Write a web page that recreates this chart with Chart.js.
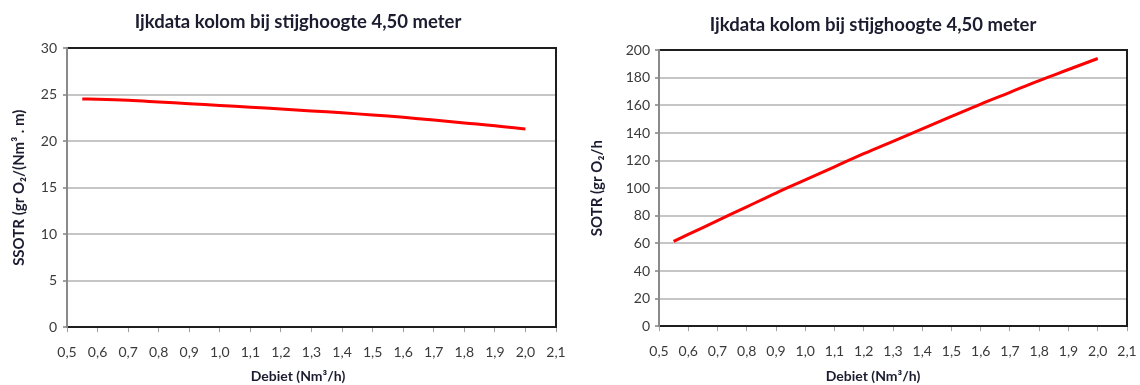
<!DOCTYPE html>
<html>
<head>
<meta charset="utf-8">
<script src="https://cdn.jsdelivr.net/npm/chart.js@4.4.1/dist/chart.umd.min.js"></script>
<style>
  html, body { margin: 0; padding: 0; background: #fff; overflow: hidden; }
  body { width: 1140px; height: 385px; position: relative; }
  .wrap { position: absolute; top: 0; height: 385px; }
  #leftWrap { left: 0; }
  #rightWrap { left: 588px; }
</style>
</head>
<body>
<div class="wrap" id="leftWrap"><canvas id="ssotrChart" width="596" height="385"></canvas></div>
<div class="wrap" id="rightWrap"><canvas id="sotrChart" width="570" height="385"></canvas></div>
<script>
// flow rate (Nm3/h) and the two measured curves
const debiet = [0.55, 0.6, 0.7, 0.8, 0.9, 1.0, 1.1, 1.2, 1.3, 1.4, 1.5, 1.6, 1.7, 1.8, 1.9, 2.0];
const ssotr  = [24.55, 24.52, 24.40, 24.22, 24.03, 23.84, 23.66, 23.47, 23.26, 23.05, 22.82, 22.57, 22.27, 21.96, 21.66, 21.30];
const sotr   = [61.5, 66.5, 76.5, 86.5, 96.5, 106, 115.5, 125, 134, 143, 152, 161, 169.5, 178, 186, 194];

const debietTicks = [0.5, 0.6, 0.7, 0.8, 0.9, 1.0, 1.1, 1.2, 1.3, 1.4, 1.5, 1.6, 1.7, 1.8, 1.9, 2.0, 2.1];

const TITLE = "Ijkdata kolom bij stijghoogte 4,50 meter";
const X_TITLE = "Debiet (Nm³/h)";
const FONT = "Lato, 'Liberation Sans', sans-serif";
const TEXT = "#3a3a3a";
const FRAME = "#1e1e1e";

function makeChart(id, o) {
  return new Chart(document.getElementById(id), {
    type: "line",
    data: {
      datasets: [{
        data: debiet.map((x, i) => ({ x, y: o.values[i] })),
        xAxisID: "x", yAxisID: "y",
        borderColor: "#ff0000", borderWidth: 3,
        pointRadius: 0, tension: 0.4, fill: false
      }]
    },
    options: {
      responsive: false, animation: false,
      layout: { padding: 0 },
      plugins: {
        legend: { display: false },
        tooltip: { enabled: false },
        title: {
          display: true, text: TITLE, color: "#1c1c30",
          font: { family: FONT, size: 18.5, weight: "bold" },
          padding: { top: o.titleTop, bottom: o.titleBottom }
        },
        subtitle: {
          display: true, position: "bottom", text: X_TITLE, color: "#1c1c30",
          font: { family: FONT, size: 14, weight: "bold" },
          padding: { top: o.subTop, bottom: 0 }
        }
      },
      scales: {
        x: {
          type: "linear", position: "bottom", min: 0.5, max: 2.1,
          afterBuildTicks: s => { s.ticks = debietTicks.map(v => ({ value: v })); },
          afterFit: s => { s.height = 35; },
          ticks: {
            autoSkip: false, maxRotation: 0, padding: 12, color: TEXT,
            font: { family: FONT, size: 14 },
            callback: v => v.toFixed(1).replace(".", ",")
          },
          grid: { drawOnChartArea: false, tickLength: 5, tickColor: "#a0a0a0", lineWidth: 1 },
          border: { color: FRAME, width: 2 }
        },
        // top and right axes only draw the dark frame around the plot
        xTop: {
          type: "linear", position: "top", min: 0.5, max: 2.1,
          afterFit: s => { s.height = 0; },
          ticks: { display: false },
          grid: { display: false },
          border: { color: FRAME, width: 2 }
        },
        y: {
          position: "left", min: 0, max: o.yMax,
          afterFit: s => { s.width = o.yWidth; },
          ticks: { stepSize: o.yStep, padding: o.yPad, color: TEXT, font: { family: FONT, size: 14 } },
          grid: {
            color: c => c.tick && c.tick.value === o.yMax ? "rgba(0,0,0,0)" : "#c6c6c6",
            lineWidth: 2, tickLength: 4, tickColor: "#a0a0a0"
          },
          border: { color: "#8a8a8a", width: 2 },
          title: {
            display: true, text: o.yTitle, color: "#1c1c30",
            font: { family: FONT, size: 15, weight: "bold" },
            padding: { top: o.yTitlePad, bottom: 0 }
          }
        },
        yRight: {
          position: "right", min: 0, max: o.yMax,
          afterFit: s => { s.width = o.rightGap; },
          ticks: { display: false },
          grid: { display: false },
          border: { color: FRAME, width: 2 }
        }
      }
    }
  });
}

makeChart("ssotrChart", {
  values: ssotr, yMax: 30, yStep: 5, yWidth: 67, yPad: 6, rightGap: 40,
  yTitle: "SSOTR (gr O₂/(Nm³ . m)", yTitlePad: 10,
  titleTop: 11, titleBottom: 15, subTop: 6
});

makeChart("sotrChart", {
  values: sotr, yMax: 200, yStep: 20, yWidth: 71, yPad: 5, rightGap: 31,
  yTitle: "SOTR (gr O₂/h", yTitlePad: 0,
  titleTop: 13.5, titleBottom: 14.5, subTop: 7
});
</script>
</body>
</html>
